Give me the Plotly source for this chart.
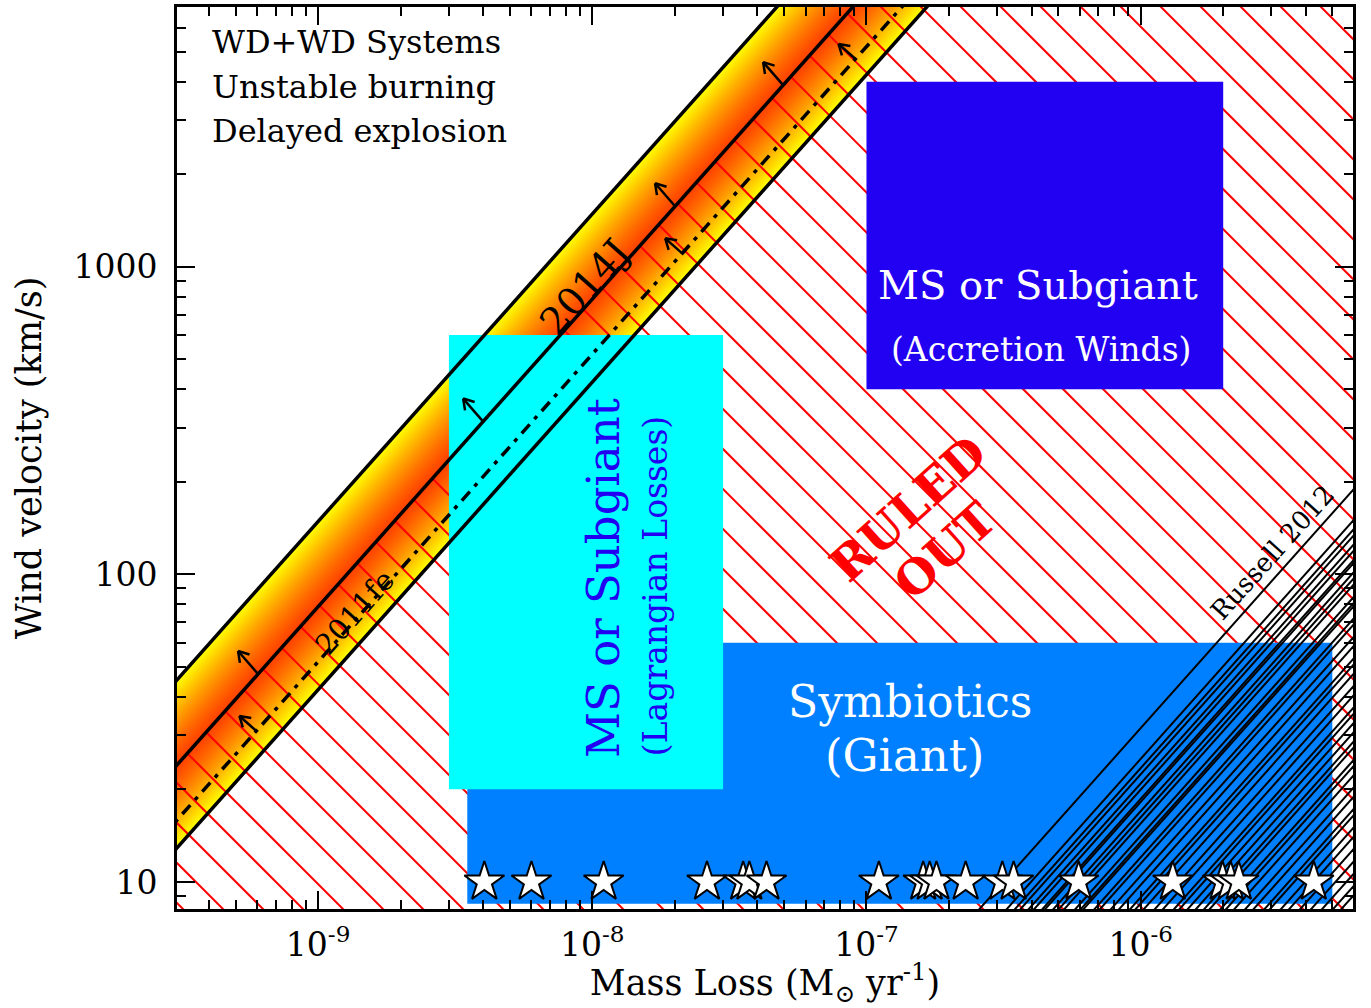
import numpy as np
import plotly.graph_objects as go

FONT = "DejaVu Serif"

# ---- axis extents (log10 units) ----
X_RANGE = [-9.5146, -5.2256]   # mass loss, Msun/yr
Y_RANGE = [0.912, 3.845]       # wind velocity, km/s

# ---- constraint lines: log10(v / Mdot) ----
LOGK_BAND_TOP = 11.172      # outer edge of the 2014J band
LOGK_2014J = 10.895         # 2014J limit (solid)
LOGK_2011FE = 10.716        # 2011fe limit (dashed)
LOGK_BAND_BOTTOM = 10.625   # outer edge of the 2011fe band

# arrow anchor points along the limits (log10 Mdot)
ARROWS_2014J = [-9.219, -8.398, -7.698, -7.304]
ARROWS_2011FE = [-9.225, -7.672, -7.040]

# ---- donor-channel regions ----
LAGRANGE_MDOT = [3e-9, 3e-8]
LAGRANGE_V = [20, 600]
SYMB_MDOT = [3.5e-9, 5e-6]
SYMB_V = [8.5, 60]
ACCR_MDOT = [1e-7, 2e-6]
ACCR_V = [400, 4000]

# ---- symbiotic systems (mass loss, km/s) ----
STAR_MDOT = [4.04e-9, 6.0e-9, 1.10e-8, 2.62e-8, 3.55e-8, 3.74e-8, 4.32e-8,
             1.11e-7, 1.61e-7, 1.70e-7, 1.80e-7, 2.30e-7, 3.13e-7, 3.44e-7,
             5.94e-7, 1.31e-6, 1.99e-6, 2.13e-6, 2.28e-6, 4.28e-6]
STAR_V = [10] * len(STAR_MDOT)

# ---- Russell 2012 wind constraints: log10(v / Mdot) ----
RUSSELL_LOGK = [7.50, 7.40, 7.37, 7.35, 7.32, 7.30, 7.27, 7.26, 7.23, 7.21,
                7.19, 7.15, 7.13, 7.12, 7.08, 7.06, 7.02, 6.99, 6.95, 6.93,
                6.90, 6.86, 6.83, 6.79, 6.77, 6.74, 6.71, 6.68, 6.66, 6.62,
                6.60, 6.57, 6.53, 6.50, 6.46, 6.44, 6.40, 6.37, 6.33, 6.29,
                6.25, 6.21, 6.18]

# ---- tick labels ----
X_TICKS = [1e-9, 1e-8, 1e-7, 1e-6]
X_TICKTEXT = ["10<sup>-9</sup>", "10<sup>-8</sup>", "10<sup>-7</sup>", "10<sup>-6</sup>"]
Y_TICKS = [10, 100, 1000]
Y_TICKTEXT = ["10", "100", "1000"]

# figure geometry
W, H = 1371, 1008
MARGIN = dict(l=177, r=18, t=7, b=99)
PLOT_W = W - MARGIN["l"] - MARGIN["r"]
PLOT_H = H - MARGIN["t"] - MARGIN["b"]
PX_PER_DEC_X = PLOT_W / (X_RANGE[1] - X_RANGE[0])
PX_PER_DEC_Y = PLOT_H / (Y_RANGE[1] - Y_RANGE[0])

XL, XR = X_RANGE[0] - 1.0, X_RANGE[1] + 1.0

fig = go.Figure()


def line_const(logk):
    X = np.array([XL, XR])
    return 10 ** X, 10 ** (X + logk)


def band_gradient(k_edge, k_mid, n=48, g_mid=65, power=1.25):
    # painter's layering: each strip runs from its start to the limit line
    for i in range(n):
        t = 1 - i / n
        k0 = k_mid + (k_edge - k_mid) * t
        g = int(round(g_mid + (255 - g_mid) * t ** power))
        xs = [XL, XR, XR, XL, XL]
        ys = [XL + k0, XR + k0, XR + k_mid, XL + k_mid, XL + k0]
        fig.add_trace(go.Scatter(
            x=10 ** np.array(xs), y=10 ** np.array(ys), mode="lines",
            fill="toself", fillcolor=f"rgb(255,{g},0)",
            line=dict(width=0), hoverinfo="skip"))


band_gradient(LOGK_BAND_TOP, LOGK_2014J)
band_gradient(LOGK_BAND_BOTTOM, LOGK_2014J)

# red hatching of the excluded region (below the 2014J limit)
HATCH_STEP_PX = 40
HATCH_PHASE_PX = 46
a = PX_PER_DEC_X / PX_PER_DEC_Y
hx, hy = [], []
step = HATCH_STEP_PX / PX_PER_DEC_X
xb = X_RANGE[0] + HATCH_PHASE_PX / PX_PER_DEC_X - 40 * step
x_stop = X_RANGE[1] + (PLOT_H + 60) / PX_PER_DEC_X
ymin = Y_RANGE[0]
while xb < x_stop:
    x0 = (ymin + a * xb - LOGK_2014J) / (1 + a)
    if x0 < xb + 0.2:
        x1 = xb + 0.2
        y0 = x0 + LOGK_2014J
        y1 = ymin - a * (x1 - xb)
        hx += [10 ** x0, 10 ** x1, None]
        hy += [10 ** y0, 10 ** y1, None]
    xb += step
fig.add_trace(go.Scatter(x=hx, y=hy, mode="lines",
                         line=dict(color="red", width=2), hoverinfo="skip"))


def box(mdot, v, color):
    fig.add_trace(go.Scatter(
        x=[mdot[0], mdot[1], mdot[1], mdot[0], mdot[0]],
        y=[v[0], v[0], v[1], v[1], v[0]], mode="lines", fill="toself",
        fillcolor=color, line=dict(width=0), hoverinfo="skip"))


box(SYMB_MDOT, SYMB_V, "#0080FF")
box(LAGRANGE_MDOT, LAGRANGE_V, "#00FFFF")
box(ACCR_MDOT, ACCR_V, "#2200F2")

# Russell 2012 lines
rx, ry = [], []
for k in RUSSELL_LOGK:
    X0 = Y_RANGE[0] - 0.2 - k
    X1 = X_RANGE[1] + 0.2
    rx += [10 ** X0, 10 ** X1, None]
    ry += [10 ** (X0 + k), 10 ** (X1 + k), None]
fig.add_trace(go.Scatter(x=rx, y=ry, mode="lines",
                         line=dict(color="black", width=2), hoverinfo="skip"))

# band edges and limits
for k, dash, w in [(LOGK_BAND_TOP, "solid", 3.5), (LOGK_2014J, "solid", 3.5),
                   (LOGK_BAND_BOTTOM, "solid", 3.5), (LOGK_2011FE, "12px,7px,4px,7px", 3.5)]:
    x, y = line_const(k)
    fig.add_trace(go.Scatter(x=x, y=y, mode="lines",
                             line=dict(color="black", width=w, dash=dash),
                             hoverinfo="skip"))


# arrows pointing to the allowed side of each limit
def arrows(xs_log, logk, dx, dy, head=12, spread=32):
    ax_, ay_ = [], []
    for X in xs_log:
        Y = X + logk

        # screen-space offsets converted to log units (screen y grows down)
        def pt(px, py):
            return 10 ** (X + px / PX_PER_DEC_X), 10 ** (Y - py / PX_PER_DEC_Y)

        hxp, hyp = -dx, -dy
        L = np.hypot(dx, dy)
        ux, uy = dx / L, dy / L  # back along the shaft
        pts = [pt(0, 0), pt(hxp, hyp), None]
        for s in (+1, -1):
            c, sn = np.cos(np.radians(spread * s)), np.sin(np.radians(spread * s))
            bx = ux * c - uy * sn
            by = ux * sn + uy * c
            pts += [pt(hxp, hyp), pt(hxp + head * bx, hyp + head * by), None]
        for p in pts:
            if p is None:
                ax_.append(None)
                ay_.append(None)
            else:
                ax_.append(p[0])
                ay_.append(p[1])
    fig.add_trace(go.Scatter(x=ax_, y=ay_, mode="lines",
                             line=dict(color="black", width=2.5), hoverinfo="skip"))


arrows(ARROWS_2014J, LOGK_2014J, 20, 23)
arrows(ARROWS_2011FE, LOGK_2011FE, 17, 15)

fig.add_trace(go.Scatter(
    x=STAR_MDOT, y=STAR_V, mode="markers",
    marker=dict(symbol="star", size=30, color="white",
                line=dict(color="black", width=2)),
    hoverinfo="skip"))

annotations = []


def label(text, X, Y, size, color="black", angle=0, ref="data", xanchor="center"):
    d = dict(text=text, x=X, y=Y, showarrow=False, textangle=angle,
             font=dict(family=FONT, size=size, color=color),
             xanchor=xanchor, yanchor="middle")
    if ref == "paper":
        d.update(xref="paper", yref="paper")
    else:
        d.update(xref="x", yref="y")
    annotations.append(d)


label("WD+WD Systems", 0.028, 0.9612, 32, ref="paper", xanchor="left")
label("Unstable burning", 0.028, 0.9113, 32, ref="paper", xanchor="left")
label("Delayed explosion", 0.028, 0.8625, 32, ref="paper", xanchor="left")

label("MS or Subgiant", -6.3746, 2.941, 40, color="white")
label("(Accretion Winds)", -6.3637, 2.7328, 33, color="white")
label("Symbiotics", -6.8414, 1.588, 44, color="white")
label("(Giant)", -6.863, 1.4126, 45, color="white")
label("MS or Subgiant", -7.961, 1.988, 45, color="#2200F2", angle=-90)
label("(Lagrangian Losses)", -7.771, 1.962, 33, color="#2200F2", angle=-90)
label("<b>RULED</b>", -6.8487, 2.2157, 47, color="red", angle=-42)
label("<b>OUT</b>", -6.7138, 2.079, 47, color="red", angle=-42)
label("Russell 2012", -5.521, 2.0694, 26, angle=-48)
label("2014J", -8.027, 2.934, 38, angle=-48.3)
label("2011fe", -8.8654, 1.8775, 29, angle=-48.3)

MINOR_X = [m * 10.0 ** e for e in range(-10, -5) for m in range(2, 10)]
MINOR_Y = [m * 10.0 ** e for e in range(0, 4) for m in range(2, 10)]

axis_common = dict(
    type="log", showgrid=False, zeroline=False, showline=True,
    linecolor="black", linewidth=3, mirror="allticks",
    ticks="inside", ticklen=18, tickwidth=2, tickcolor="black",
    tickfont=dict(family=FONT, size=33, color="black"),
    automargin=False,
)

fig.update_xaxes(
    range=X_RANGE, tickvals=X_TICKS, ticktext=X_TICKTEXT,
    minor=dict(tickvals=MINOR_X, ticks="inside", ticklen=9, tickwidth=2,
               tickcolor="black", showgrid=False),
    ticklabelstandoff=4,
    title=dict(text="Mass Loss (M<sub>⊙</sub> yr<sup>-1</sup>)",
               font=dict(family=FONT, size=35, color="black"), standoff=26),
    **axis_common)
fig.update_yaxes(
    range=Y_RANGE, tickvals=Y_TICKS, ticktext=Y_TICKTEXT,
    minor=dict(tickvals=MINOR_Y, ticks="inside", ticklen=9, tickwidth=2,
               tickcolor="black", showgrid=False),
    ticklabelstandoff=10,
    title=dict(text="Wind velocity (km/s)",
               font=dict(family=FONT, size=35, color="black"), standoff=22),
    **axis_common)

fig.update_layout(
    width=W, height=H, margin=MARGIN, showlegend=False,
    plot_bgcolor="white", paper_bgcolor="white",
    annotations=annotations,
)

fig.write_html("out.html")
